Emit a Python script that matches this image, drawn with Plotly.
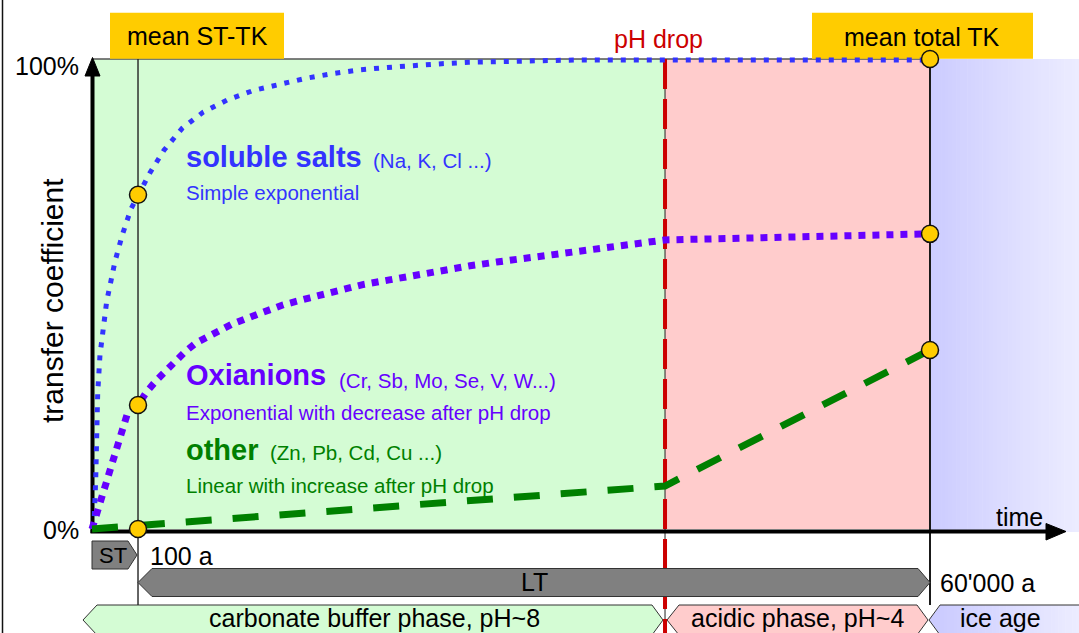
import plotly.graph_objects as go

# ---------------- data (schematic time axis: 0 = start, 100 = mean total TK ; transfer coefficient in %)
t_st = 5.49     # short-term end (100 a)
t_ph = 68.38    # pH drop
t_end = 100.0   # 60'000 a

salts_t = [0, 0.27, 0.44, 0.56, 0.68, 0.95, 1.16, 1.75, 2.74, 3.62, 4.65, 5.49, 6.92, 8.59,
           10.78, 13.28, 16.15, 19.25, 22.40, 25.54, 28.76, 31.98, 35.24, 38.46, 41.73,
           44.95, 48.21, 51.47, 54.74, 57.96, 100]
salts_v = [0, 2.6, 10.4, 19.6, 28.9, 37.0, 39.9, 48.4, 56.9, 62.6, 68.1, 71.1, 75.8, 80.6,
           85.3, 88.7, 91.3, 93.3, 94.7, 95.9, 96.9, 97.7, 98.2, 98.7, 99.0,
           99.3, 99.4, 99.6, 99.8, 99.8, 99.8]

oxi_t = [0, 0.12, 0.95, 1.43, 1.91, 2.39, 2.86, 3.22, 3.70, 4.18, 5.49, 6.53, 7.72, 8.91,
         9.90, 11.10, 12.41, 13.69, 16.74, 19.77, 22.83, 26.01, 29.12, 32.30, 35.48, 38.66,
         41.85, 45.11, 48.29, 51.55, 54.74, 58.03, 61.22, 64.52, 68.38, 78.52, 90.45, 100]
oxi_v = [0, 0.85, 5.5, 8.3, 11.1, 14.0, 16.8, 19.4, 21.7, 24.3, 26.4, 29.2, 31.7, 33.8,
         36.0, 37.7, 39.6, 40.9, 43.6, 45.7, 47.7, 49.2, 50.7, 52.0, 53.0, 54.1,
         55.1, 56.0, 56.8, 57.5, 58.3, 59.0, 59.9, 60.6, 61.5, 62.0, 62.4, 62.8]

other_t = [0, 68.38, 100]
other_v = [0, 9.15, 38.1]

mark_t = [5.49, 5.49, 5.49, 100, 100, 100]
mark_v = [71.1, 26.4, 0, 100, 62.8, 38.1]

y_ticks = [0, 100]
y_ticklabels = ["0%", "100%"]

# ---------------- layout helpers (pixel -> axis units, for decorations only)
W, H = 1079, 633
OX, SX = 92.0, 8.38
OY, SY = 529.0, 4.7
def X(px): return (px - OX) / SX
def Y(py): return (OY - py) / SY

FONT = "Liberation Sans, Arial, sans-serif"
C_SALT = "#3333FF"
C_OXI = "#6600FF"
C_OTH = "#008000"
C_GREEN = "#D4FCD4"
C_PINK = "#FFCCCC"
C_YEL = "#FFCC00"
C_GRAY = "#808080"

fig = go.Figure()

fig.add_trace(go.Scatter(x=salts_t, y=salts_v, mode="lines",
                         line=dict(color=C_SALT, width=5, dash="5px,8px"), hoverinfo="skip"))
fig.add_trace(go.Scatter(x=oxi_t, y=oxi_v, mode="lines",
                         line=dict(color=C_OXI, width=7, dash="7px,7px"), hoverinfo="skip"))
fig.add_trace(go.Scatter(x=other_t, y=other_v, mode="lines",
                         line=dict(color=C_OTH, width=7, dash="26px,21px"), hoverinfo="skip"))
fig.add_trace(go.Scatter(x=mark_t, y=mark_v, mode="markers",
                         marker=dict(color=C_YEL, size=17, line=dict(color="#111", width=1.5)),
                         hoverinfo="skip"))

shapes = []
def rect(x0, y0, x1, y1, fill, line=None):
    shapes.append(dict(type="rect", xref="x", yref="y", x0=x0, y0=y0, x1=x1, y1=y1,
                       fillcolor=fill, line=dict(width=0) if line is None else line, layer="below"))
def seg(x0, y0, x1, y1, color, width, dash="solid"):
    shapes.append(dict(type="line", xref="x", yref="y", x0=x0, y0=y0, x1=x1, y1=y1,
                       line=dict(color=color, width=width, dash=dash), layer="below"))
def poly(pts, fill, lc="#333", lw=1, close=True):
    p = "M " + " L ".join(f"{X(a):.4f},{Y(b):.4f}" for a, b in pts) + (" Z" if close else "")
    shapes.append(dict(type="path", xref="x", yref="y", path=p,
                       fillcolor=fill, line=dict(color=lc, width=lw), layer="below"))

def lerp(c0, c1, f):
    return "rgb(" + ",".join(str(int(round(a + (b - a) * f))) for a, b in zip(c0, c1)) + ")"

B0, B1 = (204, 204, 255), (236, 236, 255)

# phase backgrounds
rect(0, 0, t_ph, 100, C_GREEN)
rect(t_ph, 0, t_end, 100, C_PINK)
N = 40
for i in range(N):
    xa = 930 + (1079 - 930) * i / N
    xb = 930 + (1079 - 930) * (i + 1) / N + 0.6
    rect(X(xa), Y(532), X(xb), 100, lerp(B0, B1, i / (N - 1)))

# 100% line
seg(0, 100, t_end, 100, "#555", 1.5)

# bottom phase boxes
poly([(83, 620), (97, 605), (652, 605), (663, 620), (652, 635), (97, 635)], C_GREEN)
poly([(667, 620), (679, 605), (917, 605), (928, 620), (917, 635), (679, 635)], C_PINK)
for i in range(N):
    xa = 940 + (1079 - 940) * i / N
    xb = 940 + (1079 - 940) * (i + 1) / N + 0.6
    rect(X(xa), Y(640), X(xb), Y(605), lerp(B0, B1, i / (N - 1)))
poly([(929, 620), (940.5, 605), (940.5, 635)], lerp(B0, B1, 0), lc="rgba(0,0,0,0)", lw=0)
poly([(1080, 605), (940, 605), (929, 620), (940, 635), (1080, 635)], "rgba(0,0,0,0)", close=False)

# vertical reference lines
seg(t_st, 100, t_st, Y(605), "#222", 1.4)
seg(t_end, 100, t_end, Y(605), "#1a1a1a", 2)
seg(t_ph, 100, t_ph, Y(633), "#222", 1)
seg(t_ph, 100, t_ph, Y(633), "#CC0000", 4, dash="30px,10px")

# LT and ST arrows
poly([(138, 582.5), (152, 568.5), (918, 568.5), (930, 582.5), (918, 596.5), (152, 596.5)], C_GRAY)
poly([(92, 541), (128, 541), (137, 555), (128, 569), (92, 569)], C_GRAY)

# axes with arrowheads
seg(X(92.5), Y(533), X(92.5), Y(72), "black", 4)
poly([(85, 76), (92.5, 57.5), (100, 76)], "black", lc="black", lw=1)
seg(X(90.5), Y(531.5), X(1050), Y(531.5), "black", 4)
poly([(1046, 523.5), (1066, 531.5), (1046, 540)], "black", lc="black", lw=1)

# yellow header boxes
rect(X(110), Y(58.7), X(284), Y(12.7), C_YEL)
rect(X(812), Y(58.7), X(1033), Y(12.7), C_YEL)

# outer left frame line
seg(X(2.5), Y(0), X(2.5), Y(633), "#111", 1.5)

anns = []
def ann(text, px, py, size, color="black", xa="center", ya="middle", angle=0):
    anns.append(dict(text=text, x=X(px), y=Y(py), xref="x", yref="y", showarrow=False,
                     xanchor=xa, yanchor=ya, textangle=angle, borderpad=0,
                     font=dict(family=FONT, size=size, color=color)))

ann(y_ticklabels[1], 80, 66, 25, xa="right")
ann(y_ticklabels[0], 80, 530, 25, xa="right")
ann("transfer coefficient", 52, 301, 30, angle=-90)
ann("mean ST-TK", 197, 36, 25)
ann("mean total TK", 922, 37, 25)
ann("pH drop", 658, 39, 25, color="#CC0000")
ann("time", 1044, 517, 25, xa="right")
ann("ST", 113, 555, 22)
ann("100 a", 149, 556, 25, xa="left")
ann("LT", 534, 582, 25)
ann("60'000 a", 939, 583, 25, xa="left")
ann("carbonate buffer phase, pH~8", 374, 618, 25)
ann("acidic phase, pH~4", 797, 618, 25)
ann("ice age", 1000, 618, 25)

ann("<b>soluble salts</b>", 185, 157, 29, color=C_SALT, xa="left")
ann("(Na, K, Cl ...)", 372, 160, 20.5, color=C_SALT, xa="left")
ann("Simple exponential", 185, 192, 20.5, color=C_SALT, xa="left")
ann("<b>Oxianions</b>", 185, 375, 29, color=C_OXI, xa="left")
ann("(Cr, Sb, Mo, Se, V, W...)", 338, 380, 20.5, color=C_OXI, xa="left")
ann("Exponential with decrease after pH drop", 185, 412, 20.5, color=C_OXI, xa="left")
ann("<b>other</b>", 185, 450, 29, color=C_OTH, xa="left")
ann("(Zn, Pb, Cd, Cu ...)", 269, 452, 20.5, color=C_OTH, xa="left")
ann("Linear with increase after pH drop", 185, 485, 20.5, color=C_OTH, xa="left")

fig.update_layout(
    width=W, height=H, autosize=False,
    margin=dict(l=0, r=0, t=0, b=0, pad=0),
    paper_bgcolor="white", plot_bgcolor="white",
    showlegend=False,
    xaxis=dict(range=[X(0), X(W)], visible=False, fixedrange=True),
    yaxis=dict(range=[Y(H), Y(0)], visible=False, fixedrange=True),
    shapes=shapes, annotations=anns,
    font=dict(family=FONT),
)

fig.write_html("out.html", config={"displayModeBar": False},
               post_script="document.body.style.margin='0';document.body.style.overflow='hidden';")
